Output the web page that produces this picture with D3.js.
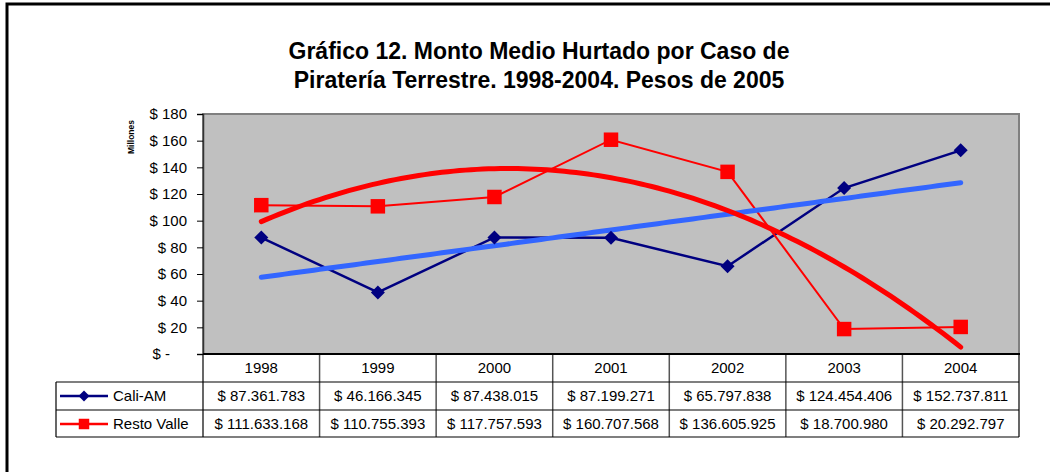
<!DOCTYPE html>
<html>
<head>
<meta charset="utf-8">
<script src="https://cdn.jsdelivr.net/npm/d3@7"></script>
<style>
  body { margin: 0; background: #fff; }
  svg { display: block; font-family: "Liberation Sans", Arial, sans-serif; }
  .tick text { font-size: 15px; fill: #000; }
  .cell { font-size: 15px; fill: #000; }
</style>
</head>
<body>
<div id="container"></div>
<script>
// data (millions of pesos of 2005)
var years = ["1998", "1999", "2000", "2001", "2002", "2003", "2004"];
var caliAM = [87.361783, 46.166345, 87.438015, 87.199271, 65.797838, 124.454406, 152.737811];
var restoValle = [111.633168, 110.755393, 117.757593, 160.707568, 136.605925, 18.700980, 20.292797];
var caliLabels = ["$ 87.361.783", "$ 46.166.345", "$ 87.438.015", "$ 87.199.271", "$ 65.797.838", "$ 124.454.406", "$ 152.737.811"];
var restoLabels = ["$ 111.633.168", "$ 110.755.393", "$ 117.757.593", "$ 160.707.568", "$ 136.605.925", "$ 18.700.980", "$ 20.292.797"];
var yTicks = [0, 20, 40, 60, 80, 100, 120, 140, 160, 180];

var W = 1050, H = 472;
var plot = {left: 203, right: 1019, top: 114, bottom: 354};
var rowH = [28, 28, 27];
var legendLeft = 56;

var svg = d3.select("#container")
  .append("svg")
    .attr("width", W)
    .attr("height", H);

// outer frame (runs off the right and bottom edge)
svg.append("rect")
    .attr("x", 7).attr("y", 4)
    .attr("width", 1200).attr("height", 600)
    .attr("fill", "none")
    .attr("stroke", "#000")
    .attr("stroke-width", 3);

// title
var title = svg.append("text")
    .attr("text-anchor", "middle")
    .style("font-size", "23px")
    .style("font-weight", "bold");
title.append("tspan").attr("x", 539).attr("y", 59)
    .text("Gráfico 12. Monto Medio Hurtado por Caso de");
title.append("tspan").attr("x", 539).attr("y", 88)
    .text("Piratería Terrestre. 1998-2004. Pesos de 2005");

// scales
var x = d3.scaleBand()
    .domain(years)
    .range([plot.left, plot.right]);
var y = d3.scaleLinear()
    .domain([0, 180])
    .range([plot.bottom, plot.top]);
var cx = function(i) { return x(years[i]) + x.bandwidth() / 2; };
var t = d3.scaleLinear().domain([0, years.length - 1]).range([cx(0), cx(years.length - 1)]);

// plot area
svg.append("rect")
    .attr("x", plot.left).attr("y", plot.top)
    .attr("width", plot.right - plot.left)
    .attr("height", plot.bottom - plot.top)
    .attr("fill", "#c0c0c0")
    .attr("stroke", "#808080")
    .attr("stroke-width", 2);

// y axis
var yAxis = svg.append("g")
    .attr("transform", "translate(" + plot.left + ",0)")
    .call(d3.axisLeft(y)
        .tickValues(yTicks)
        .tickSize(6)
        .tickPadding(10)
        .tickFormat(function(d) { return d === 0 ? "$ -" : "$ " + d; }));
yAxis.select(".domain").attr("stroke", "#333").attr("stroke-width", 1.5);
yAxis.selectAll(".tick line").attr("stroke", "#000");
yAxis.selectAll(".tick text")
    .style("font-family", "'Liberation Sans', Arial, sans-serif")
    .filter(function(d) { return d === 0; })
    .attr("x", -33);

// "Millones" label
svg.append("text")
    .attr("transform", "translate(134,137) rotate(-90)")
    .attr("text-anchor", "middle")
    .style("font-size", "8.5px")
    .style("font-weight", "bold")
    .text("Millones");

// least squares trend lines
function polyFit(vals, order) {
  var n = order + 1, A = [], b = [];
  for (var r = 0; r < n; r++) {
    A.push([]); b.push(0);
    for (var c = 0; c < n; c++) {
      var s = 0;
      vals.forEach(function(v, i) { s += Math.pow(i, r + c); });
      A[r].push(s);
    }
    vals.forEach(function(v, i) { b[r] += v * Math.pow(i, r); });
  }
  // gaussian elimination
  for (var k = 0; k < n; k++) {
    for (var r2 = k + 1; r2 < n; r2++) {
      var f = A[r2][k] / A[k][k];
      for (var c2 = k; c2 < n; c2++) A[r2][c2] -= f * A[k][c2];
      b[r2] -= f * b[k];
    }
  }
  var coef = new Array(n);
  for (var k2 = n - 1; k2 >= 0; k2--) {
    var s2 = b[k2];
    for (var c3 = k2 + 1; c3 < n; c3++) s2 -= A[k2][c3] * coef[c3];
    coef[k2] = s2 / A[k2][k2];
  }
  return function(xv) {
    return coef.reduce(function(acc, cf, p) { return acc + cf * Math.pow(xv, p); }, 0);
  };
}

var lineIdx = d3.line()
    .x(function(d, i) { return cx(i); })
    .y(function(d) { return y(d); });

// series lines
svg.append("path")
    .datum(caliAM)
    .attr("d", lineIdx)
    .attr("fill", "none")
    .attr("stroke", "#000080")
    .attr("stroke-width", 2.5);
svg.append("path")
    .datum(restoValle)
    .attr("d", lineIdx)
    .attr("fill", "none")
    .attr("stroke", "#ff0000")
    .attr("stroke-width", 2);

// trend lines
var steps = d3.range(0, years.length - 1 + 0.001, 0.05);
var trendLine = d3.line()
    .x(function(d) { return t(d[0]); })
    .y(function(d) { return y(d[1]); });
var caliTrend = polyFit(caliAM, 1);
var restoTrend = polyFit(restoValle, 2);
svg.append("path")
    .datum(steps.map(function(s) { return [s, caliTrend(s)]; }))
    .attr("d", trendLine)
    .attr("fill", "none")
    .attr("stroke", "#3366ff")
    .attr("stroke-width", 5)
    .attr("stroke-linecap", "round");
svg.append("path")
    .datum(steps.map(function(s) { return [s, restoTrend(s)]; }))
    .attr("d", trendLine)
    .attr("fill", "none")
    .attr("stroke", "#ff0000")
    .attr("stroke-width", 5)
    .attr("stroke-linecap", "round");

// markers
var diamond = d3.symbol().type(d3.symbolSquare).size(98);
var square = d3.symbol().type(d3.symbolSquare).size(210);
svg.selectAll(".cali-pt")
    .data(caliAM)
    .enter().append("path")
    .attr("class", "cali-pt")
    .attr("d", diamond)
    .attr("transform", function(d, i) { return "translate(" + cx(i) + "," + y(d) + ") rotate(45)"; })
    .attr("fill", "#000080");
svg.selectAll(".resto-pt")
    .data(restoValle)
    .enter().append("path")
    .attr("class", "resto-pt")
    .attr("d", square)
    .attr("transform", function(d, i) { return "translate(" + cx(i) + "," + y(d) + ")"; })
    .attr("fill", "#ff0000");

// data table
var r0 = plot.bottom, r1 = r0 + rowH[0], r2 = r1 + rowH[1], r3 = r2 + rowH[2];
var table = svg.append("g");
table.append("rect")
    .attr("x", plot.left).attr("y", r0)
    .attr("width", plot.right - plot.left).attr("height", rowH[0])
    .attr("fill", "#fff");
table.append("rect")
    .attr("x", legendLeft).attr("y", r1)
    .attr("width", plot.right - legendLeft).attr("height", r3 - r1)
    .attr("fill", "#fff");

// vertical column lines
table.selectAll(".vline")
    .data(years.slice(1))
    .enter().append("line")
    .attr("x1", function(d) { return x(d); })
    .attr("x2", function(d) { return x(d); })
    .attr("y1", r0).attr("y2", r3)
    .attr("stroke", "#555")
    .attr("stroke-width", 1.5);
[[legendLeft, r1, legendLeft, r3], [plot.left, r0, plot.left, r3], [plot.right, r0, plot.right, r3],
 [legendLeft, r1, plot.right, r1], [legendLeft, r2, plot.right, r2],
 [legendLeft, r3, plot.right, r3]].forEach(function(l) {
  table.append("line")
      .attr("x1", l[0]).attr("y1", l[1]).attr("x2", l[2]).attr("y2", l[3])
      .attr("stroke", "#000")
      .attr("stroke-width", 1.2);
});
// x axis line
table.append("line")
    .attr("x1", plot.left).attr("x2", plot.right + 1)
    .attr("y1", r0).attr("y2", r0)
    .attr("stroke", "#000")
    .attr("stroke-width", 2);

table.selectAll(".year")
    .data(years)
    .enter().append("text")
    .attr("class", "cell")
    .attr("x", function(d, i) { return cx(i); })
    .attr("y", r0 + 19)
    .attr("text-anchor", "middle")
    .text(function(d) { return d; });

var rows = [
  {name: "Cali-AM", labels: caliLabels, color: "#000080", rot: 45, size: 60, top: r1},
  {name: "Resto Valle", labels: restoLabels, color: "#ff0000", rot: 0, size: 110, top: r2}
];
rows.forEach(function(row) {
  var mid = row.top + 14;
  table.selectAll(null)
      .data(row.labels)
      .enter().append("text")
      .attr("class", "cell")
      .attr("x", function(d, i) { return cx(i); })
      .attr("y", mid + 5)
      .attr("text-anchor", "middle")
      .text(function(d) { return d; });
  table.append("line")
      .attr("x1", 60).attr("x2", 108)
      .attr("y1", mid).attr("y2", mid)
      .attr("stroke", row.color)
      .attr("stroke-width", 2.5);
  table.append("path")
      .attr("d", d3.symbol().type(d3.symbolSquare).size(row.size)())
      .attr("transform", "translate(84," + mid + ") rotate(" + row.rot + ")")
      .attr("fill", row.color);
  table.append("text")
      .attr("class", "cell")
      .attr("x", 113)
      .attr("y", mid + 5)
      .text(row.name);
});
</script>
</body>
</html>
